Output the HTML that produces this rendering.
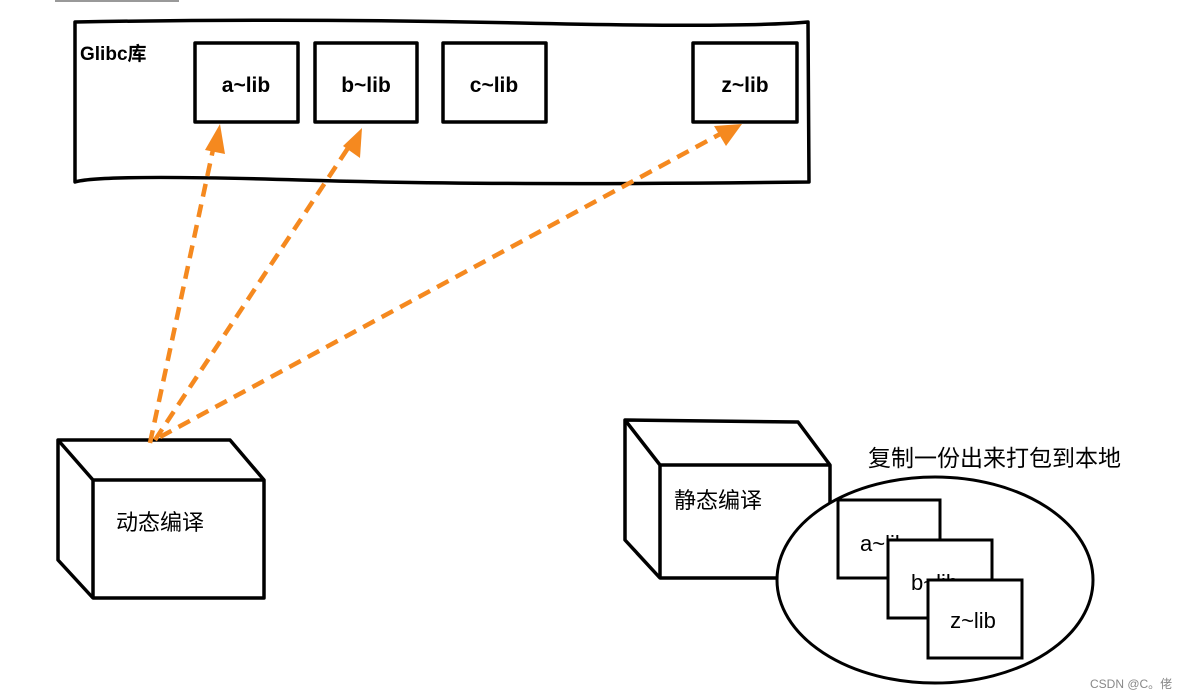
<!DOCTYPE html>
<html><head><meta charset="utf-8"><style>
html,body{margin:0;padding:0;background:#fff;}
svg{display:block;}
text{font-family:"Liberation Sans","Noto Sans CJK SC",sans-serif;}
</style></head><body>
<svg width="1187" height="697" viewBox="0 0 1187 697" xmlns="http://www.w3.org/2000/svg">
<line x1="55" y1="1" x2="179" y2="1" stroke="#999" stroke-width="2"/>
<g fill="none" stroke="#000" stroke-width="3.5" stroke-linejoin="round">
<path d="M75 22 Q300 18 520 23 T808 22 L809 182 Q500 186 300 180 T75 182 Z"/>
<rect x="195" y="43" width="103" height="79"/>
<rect x="315" y="43" width="102" height="79"/>
<rect x="443" y="43" width="103" height="79"/>
<rect x="693" y="43" width="104" height="79"/>
<path d="M58 440 L230 440 L264 480 L264 598 L93 598 L58 560 Z"/>
<path d="M58 440 L93 480 L264 480 M93 480 L93 598"/>
<path d="M625 420 L798 422 L830 465 L830 578 L660 578 L625 540 Z"/>
<path d="M625 420 L660 465 L830 465 M660 465 L660 578"/>
</g>
<ellipse cx="935" cy="580" rx="158" ry="103" fill="#fff" stroke="#000" stroke-width="3"/>
<g font-size="21" fill="#000" font-weight="bold">
<text x="80" y="60" font-size="19">Glibc库</text>
<text x="246" y="92" text-anchor="middle">a~lib</text>
<text x="366" y="92" text-anchor="middle">b~lib</text>
<text x="494" y="92" text-anchor="middle">c~lib</text>
<text x="745" y="92" text-anchor="middle">z~lib</text>
</g>
<g font-size="22" fill="#000">
<rect x="838" y="500" width="102" height="78" fill="#fff" stroke="#000" stroke-width="3"/>
<text x="860" y="551">a~lib</text>
<rect x="888" y="540" width="104" height="78" fill="#fff" stroke="#000" stroke-width="3"/>
<text x="911" y="590">b~lib</text>
<rect x="928" y="580" width="94" height="78" fill="#fff" stroke="#000" stroke-width="3"/>
<text x="973" y="628" text-anchor="middle">z~lib</text>
</g>
<g font-size="22" fill="#000">
<text x="160" y="530" text-anchor="middle">动态编译</text>
<text x="718" y="508" text-anchor="middle">静态编译</text>
<text x="868" y="466" font-size="23">复制一份出来打包到本地</text>
</g>
<text x="1090" y="688" font-size="12" fill="#888">CSDN @C。佬</text>
<g stroke="#f5891f" stroke-width="4.5" stroke-dasharray="13,8" fill="none">
<line x1="150" y1="443" x2="214" y2="145"/>
<line x1="155" y1="440" x2="350" y2="145"/>
<line x1="160" y1="437" x2="722" y2="133"/>
</g>
<g fill="#f5891f">
<polygon points="220,124 205,150 225,154"/>
<polygon points="362,128 343,146 360,158"/>
<polygon points="742,124 714,126 726,146"/>
</g>
</svg>
</body></html>
